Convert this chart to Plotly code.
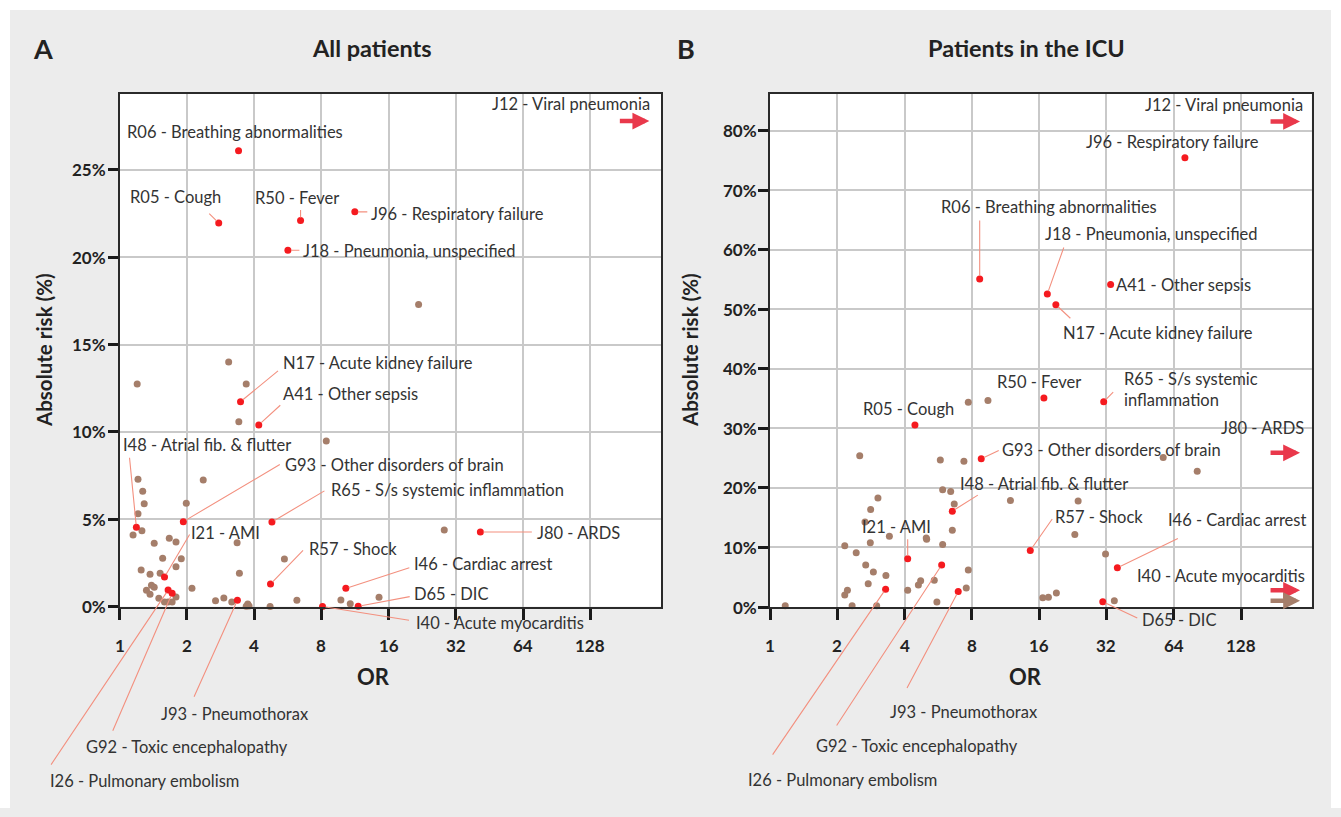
import math
import plotly.graph_objects as go

# ---------------- data ----------------
# Panel A - All patients: odds ratio (OR) and absolute risk (%)
a_hl_labels = ["R06 - Breathing abnormalities", "R05 - Cough", "R50 - Fever",
               "J96 - Respiratory failure", "J18 - Pneumonia, unspecified",
               "N17 - Acute kidney failure", "A41 - Other sepsis",
               "I48 - Atrial fib. & flutter", "G93 - Other disorders of brain",
               "R65 - S/s systemic inflammation", "I21 - AMI", "R57 - Shock",
               "I46 - Cardiac arrest", "D65 - DIC", "I40 - Acute myocarditis",
               "J80 - ARDS", "J93 - Pneumothorax", "G92 - Toxic encephalopathy",
               "I26 - Pulmonary embolism"]
a_hl_or = [3.41, 2.78, 6.46, 11.3, 5.67, 3.48, 4.2, 1.19, 1.93, 4.81, 1.59, 4.74,
           10.3, 11.7, 8.1, 41.2, 3.37, 1.72, 1.65]
a_hl_ar = [26.1, 21.96, 22.1, 22.6, 20.4, 11.73, 10.4, 4.54, 4.86, 4.84, 1.69, 1.29,
           1.04, 0.01, 0.0, 4.27, 0.36, 0.76, 0.94]
a_off_labels = ["J12 - Viral pneumonia"]          # OR beyond the axis (>256)
a_off_ar = [27.8]
a_other_or = [8.42, 1.21, 2.37, 1.27, 1.29, 1.99, 1.21, 1.26, 1.15, 1.43, 1.67, 1.79,
              3.36, 1.56, 1.89, 5.47, 1.25, 1.37, 1.52, 1.79, 3.44, 1.39, 1.43, 1.32,
              1.37, 2.11, 1.5, 1.59, 1.65, 1.72, 1.79, 2.69, 2.93, 3.18, 3.75, 3.8,
              3.69, 4.72, 6.22, 9.79, 10.78, 14.5, 1.2, 3.08, 3.69, 3.42, 21.8, 28.4]
a_other_ar = [9.48, 7.29, 7.25, 6.6, 5.89, 5.91, 5.31, 4.34, 4.1, 3.62, 3.91, 3.69,
              3.65, 2.76, 2.74, 2.72, 2.09, 1.84, 1.9, 2.28, 1.9, 1.21, 1.1, 0.93,
              0.7, 1.04, 0.47, 0.26, 0.26, 0.26, 0.54, 0.33, 0.49, 0.26, 0.14, 0.03,
              0.01, 0.0, 0.36, 0.37, 0.16, 0.53, 12.74, 14.0, 12.74, 10.58, 17.29, 4.38]

# Panel B - Patients in the ICU
b_hl_labels = ["J96 - Respiratory failure", "R06 - Breathing abnormalities",
               "J18 - Pneumonia, unspecified", "N17 - Acute kidney failure",
               "A41 - Other sepsis", "R50 - Fever",
               "R65 - S/s systemic<br>inflammation", "R05 - Cough",
               "G93 - Other disorders of brain", "I48 - Atrial fib. & flutter",
               "I21 - AMI", "R57 - Shock", "I46 - Cardiac arrest", "D65 - DIC",
               "J93 - Pneumothorax", "G92 - Toxic encephalopathy",
               "I26 - Pulmonary embolism"]
b_hl_or = [71.8, 8.67, 17.4, 19.0, 33.4, 16.8, 31.1, 4.45, 8.81, 6.54, 4.13, 14.6,
           35.8, 30.8, 6.95, 5.86, 3.29]
b_hl_ar = [75.5, 55.1, 52.6, 50.8, 54.2, 35.1, 34.5, 30.6, 24.9, 16.1, 8.1, 9.5,
           6.6, 0.9, 2.6, 7.06, 3.0]
b_off_labels = ["J12 - Viral pneumonia", "J80 - ARDS", "I40 - Acute myocarditis"]
b_off_ar = [81.6, 25.9, 2.8]
b_off_other_ar = [1.06]
b_other_or = [2.52, 5.78, 7.37, 5.92, 6.43, 6.67, 3.04, 2.82, 2.66, 6.54, 3.42, 5.0,
              5.02, 2.81, 5.92, 2.16, 2.43, 2.68, 2.9, 3.3, 2.75, 2.22, 2.16, 2.33,
              3.0, 4.13, 4.61, 4.72, 5.43, 5.58, 7.55, 7.71, 1.17, 7.71, 9.44, 11.9,
              23.9, 23.1, 31.7, 57.4, 81.5, 34.7, 16.6, 17.6, 19.1]
b_other_ar = [25.4, 24.7, 24.5, 19.7, 19.4, 17.3, 18.3, 16.4, 14.3, 12.9, 11.9, 11.6,
              11.4, 10.8, 10.5, 10.3, 9.1, 7.06, 5.9, 5.3, 3.9, 2.8, 2.0, 0.2,
              0.2, 2.8, 3.7, 4.4, 4.5, 0.84, 3.2, 6.2, 0.2, 34.4, 34.7, 17.9,
              17.8, 12.2, 8.9, 25.1, 22.8, 1.06, 1.56, 1.63, 2.35]

x_tick_vals = [1, 2, 4, 8, 16, 32, 64, 128]
a_y_ticks = [0, 5, 10, 15, 20, 25]
b_y_ticks = [0, 10, 20, 30, 40, 50, 60, 70, 80]

# ---------------- layout / style ----------------
W, H = 1341, 808
FONT = "Lato, 'Source Sans Pro', sans-serif"
TXT = "#333333"
DARK = "#222222"
RED = "#f51a1f"
BROWN = "#a57e6a"
LEADER = "#f3907f"
ARROW_RED = "#e9384b"
BG = "#ececec"
OR_MAX = 265.0
ARROW_TIP_OR = 235.0
LABEL_SIZE = 16.5
TICK_SIZE = 17
PAD = 4  # text box padding compensation

def px(x):
    return x / W

def py(y):
    return 1 - y / H

# leader end (dx, dy) and label (dx, dy) in pixels relative to the point
a_place = {
    "R06": (None, -110, -19), "R05": ((-11, -11), -87, -26), "R50": ((0, -12), -44, -23),
    "J96": ((14, 0), 18, 2), "J18": ((13, 0), 17, 1), "N17": ((39, -32), 44, -39),
    "A41": ((23, -21), 26, -31), "I48": ((-7, -71), -11, -82), "G93": ((98, -58), 104, -57),
    "R65": ((54, -32), 61, -32), "I21": ((26, -44), 28, -44), "R57": ((34, -35), 40, -35),
    "I46": ((65, -21), 70, -24), "D65": ((53, -10), 58, -12), "I40": ((88, 14), 95, 16),
    "J80": ((53, 0), 59, 1), "J93": ((-44, 98), -74, 114), "G92": ((-60, 139), -84, 154),
    "I26": ((-118, 176), -116, 191),
}
b_place = {
    "J96": (None, -97, -16), "R06": ((0, -60), -37, -72), "J18": ((17, -48), 0, -60),
    "N17": ((16, 15), 9, 28), "A41": (None, 7, 1), "R50": (None, -45, -16),
    "R65": ((11, -11), 22, -12), "R05": (None, -50, -16), "G93": ((19, -9), 23, -9),
    "I48": ((27, -17), 10, -27), "I21": ((0, -21), -44, -32), "R57": ((23, -33), 27, -33),
    "I46": ((62, -30), 53, -48), "D65": ((36, 17), 41, 18), "J93": ((-52, 98), -66, 120),
    "G92": ((-106, 162), -124, 181), "I26": ((-114, 167), -136, 191),
}
a_off_shift = [(3, 17)]
b_off_shift = [(5, 16), (6, 25), (7, 14)]

fig = go.Figure()
annotations = []

def add_panel(xa, ya, other_or, other_ar, hl_labels, hl_or, hl_ar, place,
              off_labels, off_ar, off_shift, off_other_ar, y_ticks, ylab_right):
    xref, yref = xa, ya
    fig.add_trace(go.Scatter(x=other_or, y=other_ar, mode="markers", xaxis=xa, yaxis=ya,
                             marker=dict(color=BROWN, size=7), cliponaxis=False,
                             hoverinfo="skip", showlegend=False))
    fig.add_trace(go.Scatter(x=hl_or, y=hl_ar, mode="markers", xaxis=xa, yaxis=ya,
                             marker=dict(color=RED, size=7), cliponaxis=False,
                             text=hl_labels, showlegend=False))
    for lab, o, a in zip(hl_labels, hl_or, hl_ar):
        key = lab.split(" ")[0]
        leader, ldx, ldy = place[key]
        lx = math.log10(o)
        if leader is not None:
            annotations.append(dict(x=lx, y=a, xref=xref, yref=yref, text="",
                                    showarrow=True, arrowhead=0, arrowwidth=1.1,
                                    arrowcolor=LEADER, ax=leader[0], ay=leader[1],
                                    standoff=3))
        annotations.append(dict(x=lx, y=a, xref=xref, yref=yref, text=lab,
                                showarrow=False, xanchor="left", yanchor="middle",
                                align="left", xshift=ldx - PAD, yshift=-ldy,
                                font=dict(family=FONT, size=LABEL_SIZE, color=TXT)))
    tip = math.log10(ARROW_TIP_OR)
    for lab, a, (sx, sy) in zip(off_labels, off_ar, off_shift):
        annotations.append(dict(x=tip, y=a, xref=xref, yref=yref, text="",
                                showarrow=True, arrowhead=2, arrowsize=0.75,
                                arrowwidth=4.5, arrowcolor=ARROW_RED, ax=-31, ay=0,
                                standoff=0))
        annotations.append(dict(x=tip, y=a, xref=xref, yref=yref, text=lab,
                                showarrow=False, xanchor="right", yanchor="middle",
                                xshift=sx, yshift=sy,
                                font=dict(family=FONT, size=LABEL_SIZE, color=TXT)))
    for a in off_other_ar:
        annotations.append(dict(x=tip, y=a, xref=xref, yref=yref, text="",
                                showarrow=True, arrowhead=2, arrowsize=0.75,
                                arrowwidth=4.5, arrowcolor=BROWN, ax=-31, ay=0,
                                standoff=0))
    # tick labels (placed on the axes' own scales)
    for v in x_tick_vals:
        annotations.append(dict(x=math.log10(v), y=py(645), xref=xref, yref="paper",
                                text=str(v), showarrow=False, xanchor="center",
                                yanchor="middle",
                                font=dict(family=FONT, size=TICK_SIZE, color=DARK,
                                          weight="bold")))
    for v in y_ticks:
        annotations.append(dict(x=px(ylab_right + 3), y=v, xref="paper", yref=yref,
                                text=f"{v}%", showarrow=False, xanchor="right",
                                yanchor="middle",
                                font=dict(family=FONT, size=TICK_SIZE, color=DARK,
                                          weight="bold")))

add_panel("x", "y", a_other_or, a_other_ar, a_hl_labels, a_hl_or, a_hl_ar, a_place,
          a_off_labels, a_off_ar, a_off_shift, [], a_y_ticks, 105)
add_panel("x2", "y2", b_other_or, b_other_ar, b_hl_labels, b_hl_or, b_hl_ar, b_place,
          b_off_labels, b_off_ar, b_off_shift, b_off_other_ar, b_y_ticks, 756)

# titles and axis titles
def txt(x, y, s, size, bold=True, angle=0, xanchor="center"):
    annotations.append(dict(x=px(x), y=py(y), xref="paper", yref="paper", text=s,
                            showarrow=False, xanchor=xanchor, yanchor="middle",
                            textangle=angle,
                            font=dict(family=FONT, size=size, color=DARK,
                                      weight="bold" if bold else "normal")))

txt(31, 48, "A", 27, xanchor="left")
txt(372, 48, "All patients", 23.5)
txt(675, 48, "B", 27, xanchor="left")
txt(1026, 48, "Patients in the ICU", 23.5)
txt(373, 676, "OR", 22)
txt(1025, 676, "OR", 22)
txt(44, 350, "Absolute risk (%)", 20.5, angle=-90)
txt(690, 350, "Absolute risk (%)", 20.5, angle=-90)

axis_common = dict(showgrid=True, gridcolor="#c9c9c9", gridwidth=2, showline=True,
                   linecolor="#2a2a2a", linewidth=2, mirror=True, ticks="outside",
                   tickwidth=2.5, tickcolor="#1a1a1a", zeroline=False,
                   automargin=False, showticklabels=False)

xcommon = dict(type="log", range=[0, math.log10(OR_MAX)], tickvals=x_tick_vals,
               ticklen=11, **axis_common)

fig.update_layout(
    width=W, height=H, autosize=False, margin=dict(l=0, r=0, t=0, b=0, autoexpand=False),
    paper_bgcolor=BG, plot_bgcolor="white", showlegend=False,
    xaxis=dict(domain=[px(119.5), px(661)], anchor="y", **xcommon),
    xaxis2=dict(domain=[px(770), px(1311.7)], anchor="y2", **xcommon),
    yaxis=dict(domain=[py(606.5), py(94)], anchor="x", range=[0, 29.35],
               tickvals=a_y_ticks, ticklen=10, **axis_common),
    yaxis2=dict(domain=[py(607), py(94)], anchor="x2", range=[0, 86.2],
                tickvals=b_y_ticks, ticklen=10, **axis_common),
    annotations=annotations,
    shapes=[
        dict(type="rect", xref="paper", yref="paper", x0=0, x1=px(10), y0=0, y1=1,
             fillcolor="white", line=dict(width=0), layer="above"),
        dict(type="rect", xref="paper", yref="paper", x0=0, x1=1, y0=py(10), y1=1,
             fillcolor="white", line=dict(width=0), layer="above"),
        dict(type="rect", xref="paper", yref="paper", x0=px(1331), x1=1, y0=0, y1=1,
             fillcolor="white", line=dict(width=0), layer="above"),
    ],
)

fig.write_html("out.html",
               config={"displayModeBar": False, "responsive": False},
               post_script=("document.body.style.margin='0';"
                            "document.body.style.overflow='hidden';"
                            "document.documentElement.style.background='" + BG + "';"
                            "document.body.style.background='" + BG + "';"))
